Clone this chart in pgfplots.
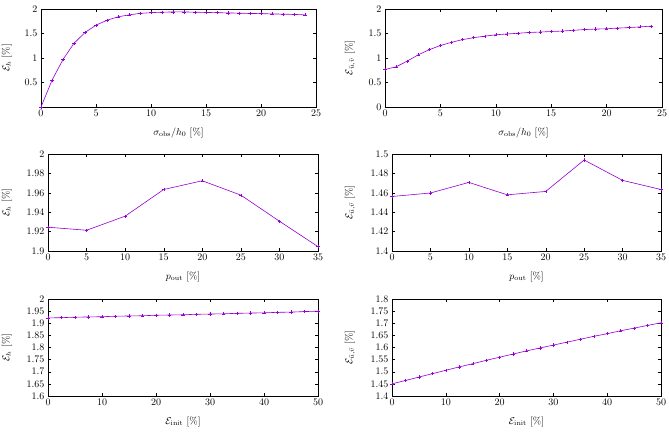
\documentclass[border=0pt]{standalone}
\usepackage{pgfplots}
\pgfplotsset{compat=1.18}
\usepackage{amsmath}

\definecolor{gpviolet}{RGB}{148,0,211}

\pgfplotsset{
  panel/.style={
    scale only axis,
    anchor=south west,
    axis line style={black, line width=0.6pt},
    tick style={black, line width=0.4pt},
    major tick length=3pt,
    tick align=inside,
    ticklabel style={font=\normalsize},
    label style={font=\normalsize},
    every axis plot post/.append style={color=gpviolet, line width=0.6pt,
      mark=+, mark size=1.6pt, mark options={line width=0.4pt, solid}},
    xlabel style={at={(axis description cs:0.5,0)}, anchor=center, yshift=-26pt},
    yticklabel style={/pgf/number format/fixed},
  },
  % the y label is rotated, so its own y direction points to the left
  ylabel at/.style={ylabel style={at={(axis description cs:0,0.5)},
    anchor=center, rotate=0, yshift=#1}},
}

\begin{document}
\begin{tikzpicture}
\path[use as bounding box] (0pt,0pt) rectangle (669pt,431pt);

% sigma_obs / h_0 sweep, height error
\begin{axis}[panel, at={(41pt,324pt)}, width=275pt, height=98pt,
  ylabel at=34pt,
  xmin=0, xmax=25, ymin=0, ymax=2,
  xtick={0,5,...,25}, ytick={0.5,1,1.5,2},
  xlabel={$\sigma_{\mathrm{obs}}/h_0$ [\%]}, ylabel={$\mathcal{E}_{h}$ [\%]}]
\addplot coordinates {
 (0,0.00) (1,0.545) (2,0.97) (3,1.30) (4,1.52) (5,1.67) (6,1.77) (7,1.84)
 (8,1.88) (9,1.91) (10,1.925) (11,1.935) (12,1.94) (13,1.94) (14,1.935)
 (15,1.93) (16,1.925) (17,1.92) (18,1.915) (19,1.91) (20,1.905) (21,1.90)
 (22,1.895) (23,1.89) (24,1.88)};
\end{axis}

% sigma_obs / h_0 sweep, velocity error
\begin{axis}[panel, at={(385pt,324pt)}, width=277pt, height=98pt,
  ylabel at=35pt,
  xmin=0, xmax=25, ymin=0, ymax=2,
  xtick={0,5,...,25}, ytick={0,0.5,1,1.5,2},
  xlabel={$\sigma_{\mathrm{obs}}/h_0$ [\%]}, ylabel={$\mathcal{E}_{\bar u,\bar v}$ [\%]}]
\addplot coordinates {
 (0,0.765) (1,0.82) (2,0.935) (3,1.065) (4,1.17) (5,1.255) (6,1.32) (7,1.375)
 (8,1.415) (9,1.445) (10,1.474) (11,1.49) (12,1.505) (13,1.52) (14,1.53)
 (15,1.54) (16,1.55) (17,1.565) (18,1.58) (19,1.59) (20,1.597) (21,1.61)
 (22,1.62) (23,1.635) (24,1.65)};
\end{axis}

% outlier proportion sweep, height error
\begin{axis}[panel, at={(48pt,180pt)}, width=270pt, height=97pt,
  ylabel at=41pt,
  xmin=0, xmax=35, ymin=1.9, ymax=2,
  xtick={0,5,...,35}, ytick={1.9,1.92,...,2.001},
  yticklabel style={/pgf/number format/.cd, fixed, precision=2},
  xlabel={$p_{\mathrm{out}}$ [\%]}, ylabel={$\mathcal{E}_{h}$ [\%]}]
\addplot coordinates {
 (0,1.9245) (5,1.9214) (10,1.9359) (15,1.9634) (20,1.9724) (25,1.9576)
 (30,1.9307) (35,1.9045)};
\end{axis}

% outlier proportion sweep, velocity error
\begin{axis}[panel, at={(392pt,180pt)}, width=269pt, height=97pt,
  ylabel at=42pt,
  xmin=0, xmax=35, ymin=1.4, ymax=1.5,
  xtick={0,5,...,35}, ytick={1.4,1.42,...,1.501},
  yticklabel style={/pgf/number format/.cd, fixed, precision=2},
  xlabel={$p_{\mathrm{out}}$ [\%]}, ylabel={$\mathcal{E}_{\bar u,\bar v}$ [\%]}]
\addplot coordinates {
 (0,1.4562) (5,1.4598) (10,1.4707) (15,1.4579) (20,1.4614) (25,1.4938)
 (30,1.4728) (35,1.4634)};
\end{axis}

% initial-condition error sweep, height error
\begin{axis}[panel, at={(48pt,35pt)}, width=270pt, height=97pt,
  ylabel at=41pt,
  xmin=0, xmax=50, ymin=1.6, ymax=2,
  xtick={0,10,...,50}, ytick={1.6,1.65,...,2.001},
  yticklabel style={/pgf/number format/.cd, fixed, precision=2},
  xlabel={$\mathcal{E}_{\mathrm{init}}$ [\%]}, ylabel={$\mathcal{E}_{h}$ [\%]}]
\addplot coordinates {
 (0,1.922) (2.5,1.923) (5,1.925) (7.5,1.926) (10,1.927) (12.5,1.929)
 (15,1.930) (17.5,1.931) (20,1.933) (22.5,1.934) (25,1.935) (27.5,1.937)
 (30,1.938) (32.5,1.939) (35,1.941) (37.5,1.942) (40,1.943) (42.5,1.945)
 (45,1.946) (47.5,1.948) (50,1.950)};
\end{axis}

% initial-condition error sweep, velocity error
\begin{axis}[panel, at={(392pt,35pt)}, width=269pt, height=97pt,
  ylabel at=42pt,
  xmin=0, xmax=50, ymin=1.4, ymax=1.8,
  xtick={0,10,...,50}, ytick={1.4,1.45,...,1.801},
  yticklabel style={/pgf/number format/.cd, fixed, precision=2},
  xlabel={$\mathcal{E}_{\mathrm{init}}$ [\%]}, ylabel={$\mathcal{E}_{\bar u,\bar v}$ [\%]}]
\addplot coordinates {
 (0,1.450) (2.5,1.464) (5,1.478) (7.5,1.492) (10,1.506) (12.5,1.520)
 (15,1.533) (17.5,1.547) (20,1.560) (22.5,1.573) (25,1.586) (27.5,1.598)
 (30,1.610) (32.5,1.622) (35,1.634) (37.5,1.646) (40,1.657) (42.5,1.669)
 (45,1.680) (47.5,1.691) (50,1.702)};
\end{axis}
\end{tikzpicture}
\end{document}
